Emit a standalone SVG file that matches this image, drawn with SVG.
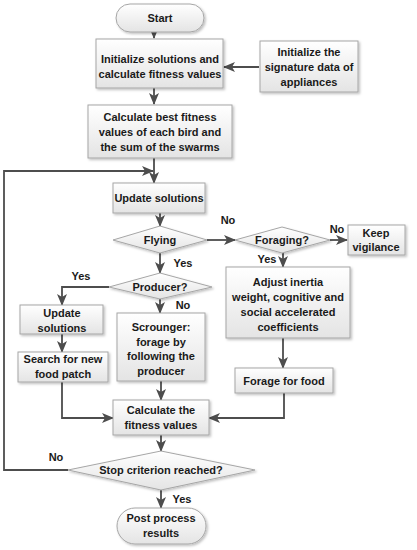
<svg xmlns="http://www.w3.org/2000/svg" width="417" height="550" viewBox="0 0 417 550">
<defs>
<linearGradient id="g" x1="0" y1="0" x2="0" y2="1">
<stop offset="0" stop-color="#ffffff"/>
<stop offset="1" stop-color="#e4e4e4"/>
</linearGradient>
<filter id="sh" x="-10%" y="-10%" width="130%" height="140%">
<feDropShadow dx="1.5" dy="1.5" stdDeviation="0.8" flood-color="#000" flood-opacity="0.25"/>
</filter>
<marker id="ah" viewBox="0 0 12 10" refX="11" refY="5" markerWidth="12" markerHeight="10" markerUnits="userSpaceOnUse" orient="auto">
<path d="M0,0 L12,5 L0,10 L3,5 Z" fill="#4d4d4d"/>
</marker>
<style>
.b{fill:url(#g);stroke:#a6a6a6;stroke-width:1;filter:url(#sh)}
.t{font-family:"Liberation Sans",Arial,sans-serif;font-weight:bold;font-size:11px;fill:#1a1a1a;text-anchor:middle;dominant-baseline:central}
.l{font-family:"Liberation Sans",Arial,sans-serif;font-weight:bold;font-size:11px;fill:#1a1a1a;text-anchor:middle;dominant-baseline:central}
.c{fill:none;stroke:#4d4d4d;stroke-width:1.8}
.a{marker-end:url(#ah)}
</style>
</defs>
<rect width="417" height="550" fill="#ffffff"/>
<g id="connectors">
<path class="c a" d="M154,32 V38"/>
<path class="c a" d="M259,67 H224"/>
<path class="c a" d="M154,88 V104"/>
<path class="c a" d="M154,158 V183"/>
<path class="c a" d="M68,470 H4 V171 H153"/>
<path class="c a" d="M160,213 V226"/>
<path class="c a" d="M207,240 H235"/>
<path class="c a" d="M330,240 H347"/>
<path class="c a" d="M283,253 V267"/>
<path class="c a" d="M160,253 V273"/>
<path class="c a" d="M109,287 H62 V305"/>
<path class="c a" d="M160,299 V313"/>
<path class="c a" d="M62,334 V352"/>
<path class="c a" d="M283,338 V368"/>
<path class="c a" d="M161,381 V400"/>
<path class="c a" d="M62,382 V418 H113"/>
<path class="c a" d="M284,393 V418 H209"/>
<path class="c a" d="M161,435 V451"/>
<path class="c a" d="M161,490 V508"/>
<text class="l" x="228" y="220">No</text>
<text class="l" x="337" y="229">No</text>
<text class="l" x="267" y="259">Yes</text>
<text class="l" x="183" y="263">Yes</text>
<text class="l" x="81" y="276">Yes</text>
<text class="l" x="183" y="305">No</text>
<text class="l" x="56" y="457">No</text>
<text class="l" x="182" y="499">Yes</text>
</g>
<g id="start">
<rect class="b" x="116" y="4" width="88" height="28" rx="14"/>
<text class="t" x="160" y="18">Start</text>
</g>
<g id="init">
<rect class="b" x="96" y="39" width="127" height="49"/>
<text class="t" x="160" y="59">Initialize solutions and</text>
<text class="t" x="160" y="74">calculate  fitness values</text>
</g>
<g id="signature">
<rect class="b" x="260" y="41" width="98" height="51"/>
<text class="t" x="309" y="52">Initialize the</text>
<text class="t" x="309" y="67">signature data of</text>
<text class="t" x="309" y="82">appliances</text>
</g>
<g id="calcbest">
<rect class="b" x="88" y="105" width="144" height="53"/>
<text class="t" x="160" y="117">Calculate  best fitness</text>
<text class="t" x="160" y="132">values of each bird and</text>
<text class="t" x="160" y="147">the sum of the swarms</text>
</g>
<g id="update1">
<rect class="b" x="113" y="183" width="92" height="30"/>
<text class="t" x="159" y="198">Update solutions</text>
</g>
<g id="flying">
<polygon class="b" points="113,240 160,226 207,240 160,253"/>
<text class="t" x="160" y="240">Flying</text>
</g>
<g id="foraging">
<polygon class="b" points="235,240 282,227 330,240 282,253"/>
<text class="t" x="282" y="240">Foraging?</text>
</g>
<g id="vigilance">
<rect class="b" x="348" y="225" width="57" height="30"/>
<text class="t" x="376" y="233">Keep</text>
<text class="t" x="376" y="247">vigilance</text>
</g>
<g id="adjust">
<rect class="b" x="226" y="267" width="124" height="71"/>
<text class="t" x="288" y="282">Adjust inertia</text>
<text class="t" x="288" y="297">weight, cognitive and</text>
<text class="t" x="288" y="312">social accelerated</text>
<text class="t" x="288" y="327">coefficients</text>
</g>
<g id="producer">
<polygon class="b" points="109,287 160,273 212,287 160,299"/>
<text class="t" x="160" y="287">Producer?</text>
</g>
<g id="update2">
<rect class="b" x="20" y="305" width="83" height="29"/>
<text class="t" x="62" y="313">Update</text>
<text class="t" x="62" y="328">solutions</text>
</g>
<g id="scrounger">
<rect class="b" x="117" y="313" width="88" height="68"/>
<text class="t" x="161" y="327">Scrounger:</text>
<text class="t" x="161" y="342">forage by</text>
<text class="t" x="161" y="356">following the</text>
<text class="t" x="161" y="371">producer</text>
</g>
<g id="search">
<rect class="b" x="18" y="352" width="90" height="30"/>
<text class="t" x="63" y="359">Search for new</text>
<text class="t" x="63" y="374">food patch</text>
</g>
<g id="forage">
<rect class="b" x="235" y="368" width="98" height="25"/>
<text class="t" x="284" y="381">Forage for food</text>
</g>
<g id="calcfit">
<rect class="b" x="113" y="400" width="96" height="35"/>
<text class="t" x="161" y="410">Calculate the</text>
<text class="t" x="161" y="425">fitness values</text>
</g>
<g id="stop">
<polygon class="b" points="68,470 161,451 255,470 161,490"/>
<text class="t" x="161" y="470">Stop criterion reached?</text>
</g>
<g id="post">
<rect class="b" x="117" y="508" width="89" height="36" rx="18"/>
<text class="t" x="161" y="518">Post process</text>
<text class="t" x="161" y="533">results</text>
</g>
</svg>
